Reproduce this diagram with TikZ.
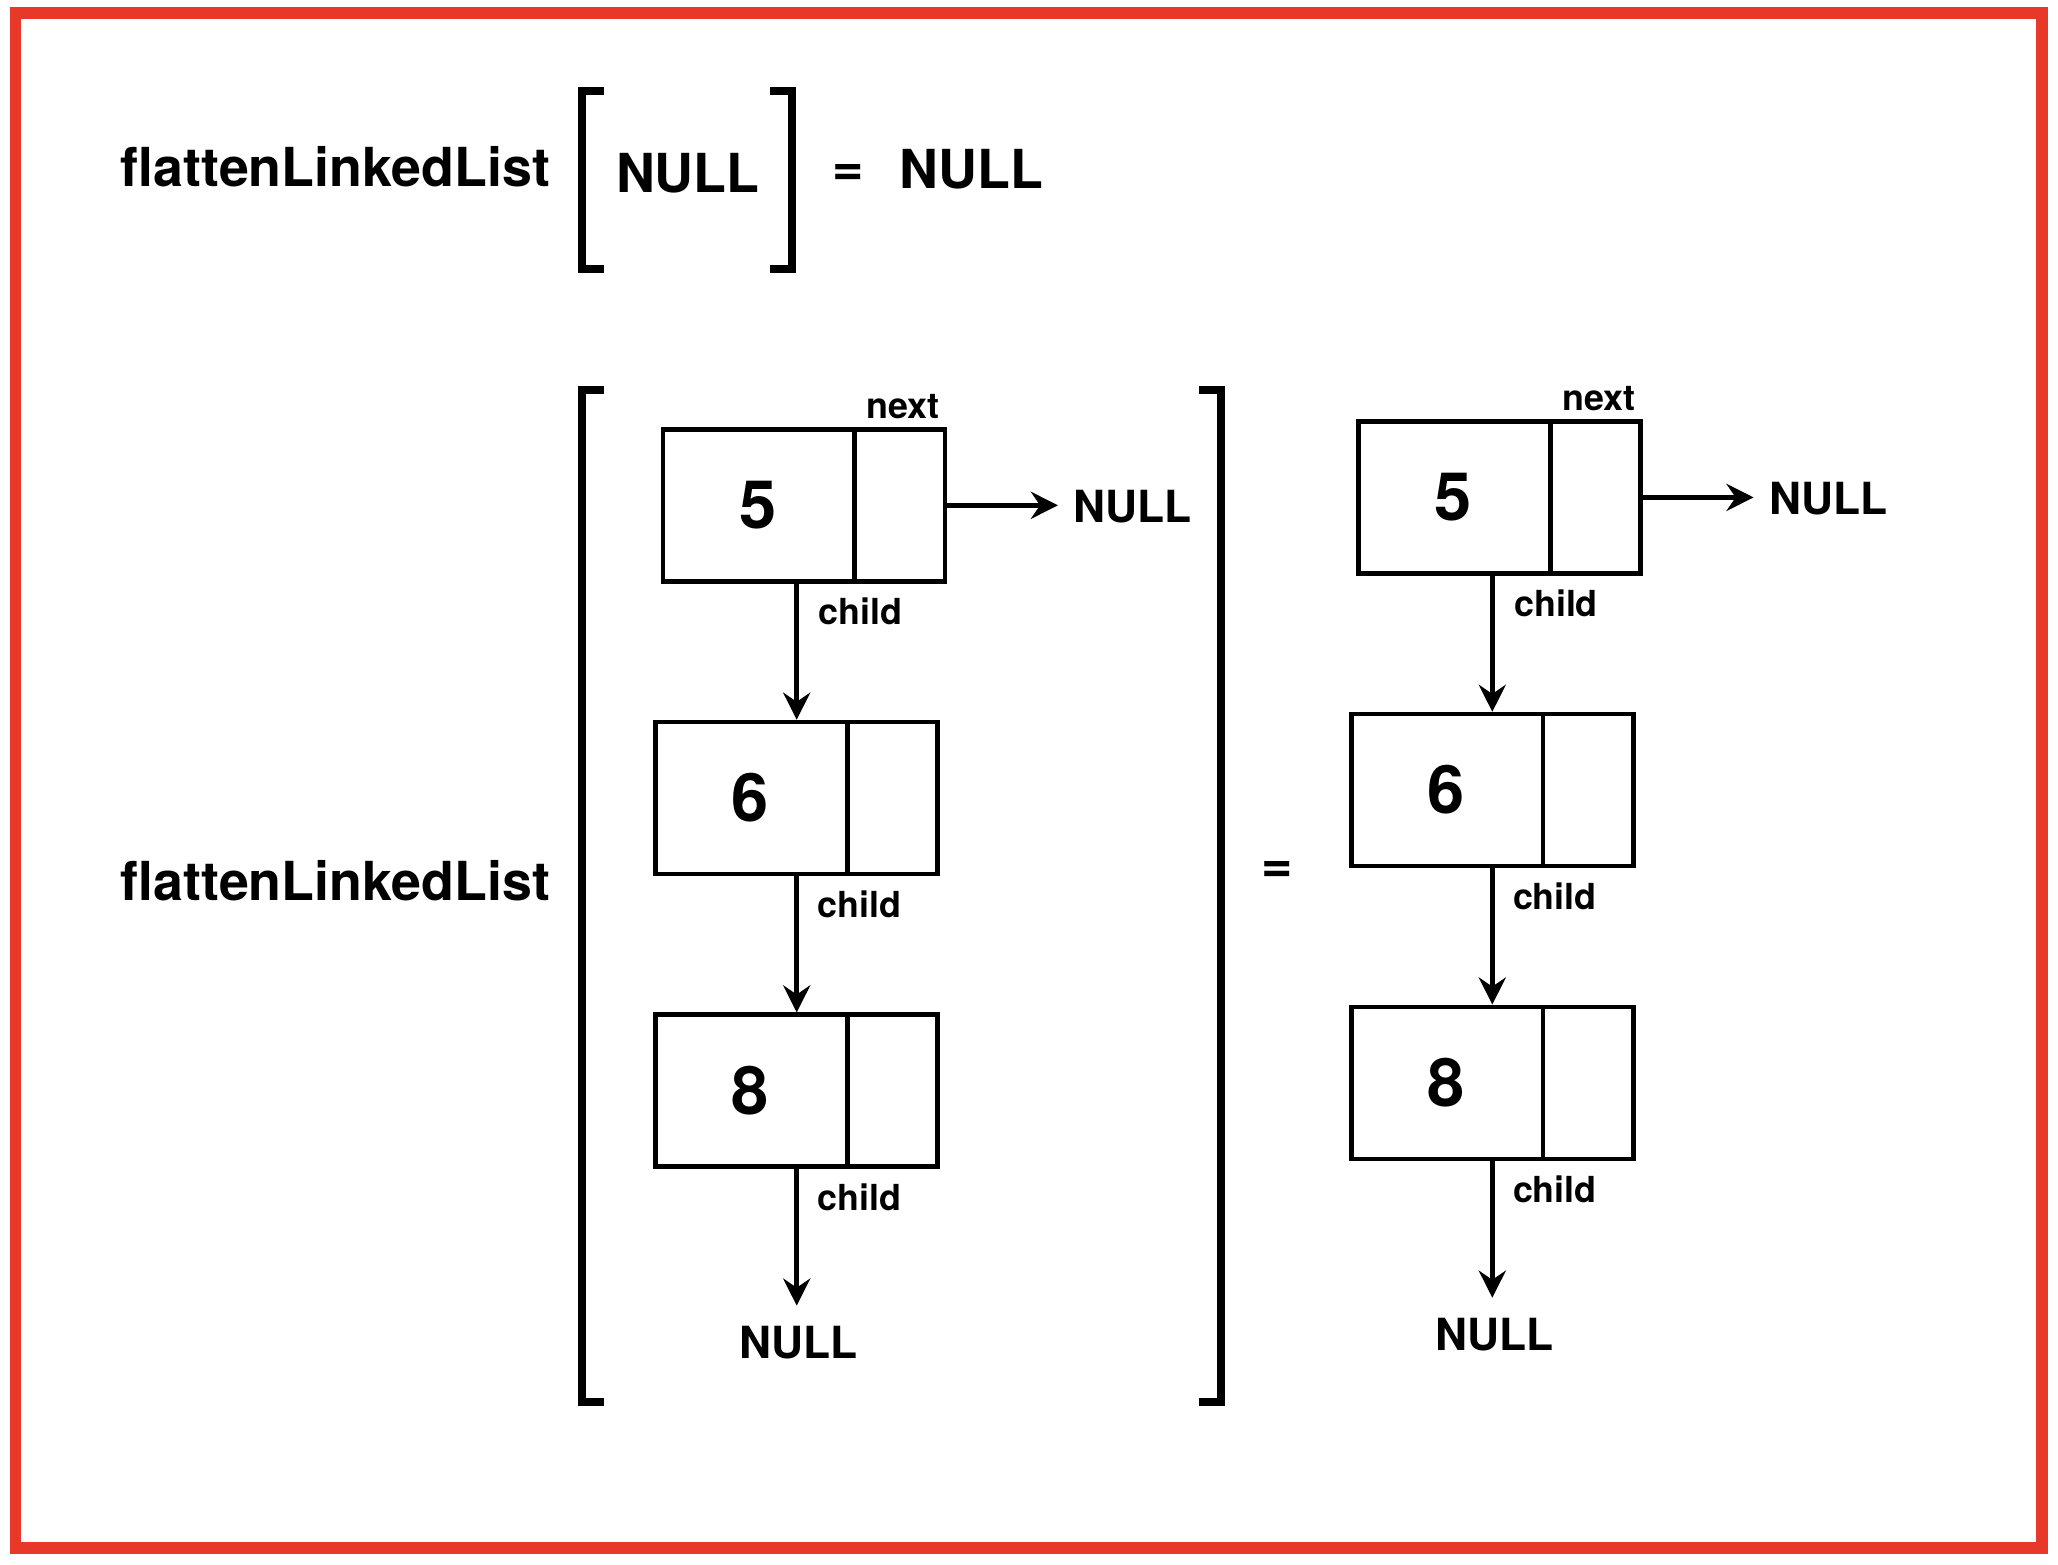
\documentclass[tikz,border=0pt]{standalone}
\usepackage{fontspec}
\setmainfont{TeX Gyre Heros}
\usetikzlibrary{arrows.meta}

\definecolor{framered}{RGB}{232,56,41}

\tikzset{
  cell/.style={draw, line width=1.3pt, minimum width=2.82cm, minimum height=1.52cm, inner sep=0pt},
  val/.style={font=\fontsize{19}{19}\selectfont\bfseries, inner sep=0pt},
  tag/.style={font=\fontsize{10.2}{10.2}\selectfont\bfseries, inner sep=0pt},
  nul/.style={font=\fontsize{12.6}{12.6}\selectfont\bfseries, inner sep=0pt},
  big/.style={font=\fontsize{15.3}{15.3}\selectfont\bfseries, inner sep=0pt},
  ptr/.style={line width=1.3pt, -{Stealth[length=7.7pt, width=7.7pt, inset=2.6pt]}},
  brack/.style={line width=2.3pt, line join=miter},
}

\begin{document}
\begin{tikzpicture}
\useasboundingbox (0,0) rectangle (20.58,-15.64);
\draw[framered, line width=0.12cm] (0.155,-0.133) rectangle (20.415,-15.475);

% empty list
\node[big] (ftop) at (3.353,-1.667) {flattenLinkedList};
\draw[brack] (6.04,-0.906) -- (5.82,-0.906) -- (5.82,-2.69) -- (6.04,-2.69);
\draw[brack] (7.70,-0.906) -- (7.92,-0.906) -- (7.92,-2.69) -- (7.70,-2.69);
\node[big] (ntop) at (6.878,-1.733) {NULL};
\node[big] (eqtop) at (8.485,-1.745) {=};
\node[big] (rtop) at (9.713,-1.693) {NULL};

% list 5 -> 6 -> 8
\node[big] (fbot) at (3.353,-8.807) {flattenLinkedList};
\draw[brack] (6.04,-3.897) -- (5.82,-3.897) -- (5.82,-14.017) -- (6.04,-14.017);
\draw[brack] (11.99,-3.897) -- (12.21,-3.897) -- (12.21,-14.017) -- (11.99,-14.017);
\node[big] (eqbot) at (12.77,-8.72) {=};

\foreach \s/\dx/\dy in {a/0/0, b/6.956/0.079}{
  \begin{scope}[shift={(\dx,\dy)}]
    \node[cell] (\s5) at (8.039,-5.053) {};
    \node[cell] (\s6) at (7.967,-7.98) {};
    \node[cell] (\s8) at (7.967,-10.907) {};
    \foreach \v in {5,6,8}{
      \draw[line width=1.3pt] ([xshift=1.94cm]\s\v.north west) -- ([xshift=1.94cm]\s\v.south west);
      \node[val] (\s\v-val) at ([xshift=0.97cm]\s\v.west) {\v};
    }
    \node[tag, anchor=base] (\s-next) at ([xshift=-0.44cm, yshift=0.09cm]\s5.north east) {next};
    \node[nul] (\s-nr) at (11.327,-5.066) {NULL};
    \node[nul] (\s-nb) at (7.99,-13.427) {NULL};
    \draw[ptr, shorten >=0.15cm] (\s5.east) -- (\s-nr.west |- \s5.east);
    \draw[ptr] (\s6.north |- \s5.south) -- (\s6.north);
    \draw[ptr] (\s6.south) -- (\s8.north);
    \draw[ptr, shorten >=0.2cm] (\s8.south) -- (\s8.south |- \s-nb.north);
    \node[tag, anchor=base west] (\s-c5) at ([xshift=0.14cm, yshift=-0.41cm]\s5.south) {child};
    \node[tag, anchor=base west] (\s-c6) at ([xshift=0.2cm, yshift=-0.41cm]\s6.south) {child};
    \node[tag, anchor=base west] (\s-c8) at ([xshift=0.2cm, yshift=-0.41cm]\s8.south) {child};
  \end{scope}
}
\end{tikzpicture}
\end{document}
